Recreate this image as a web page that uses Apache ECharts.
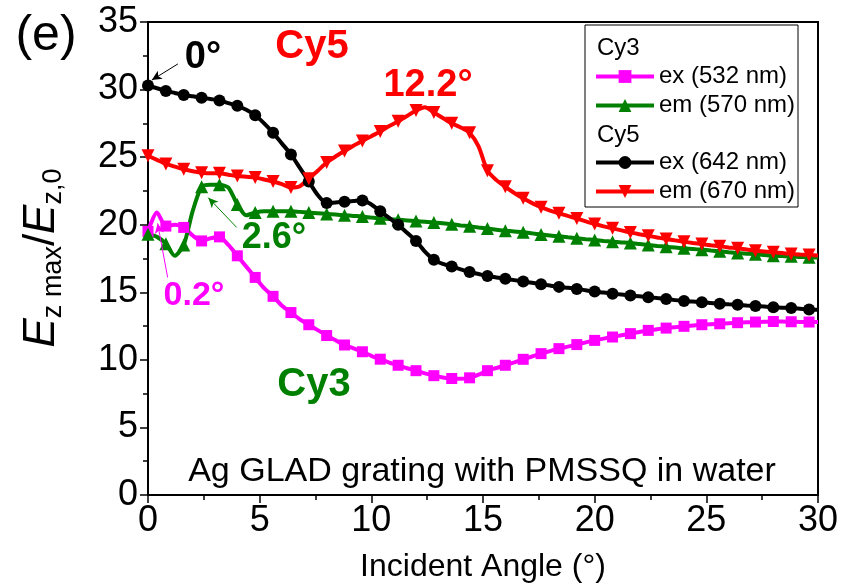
<!DOCTYPE html>
<html>
<head>
<meta charset="utf-8">
<script src="https://cdn.jsdelivr.net/npm/echarts@6/dist/echarts.min.js"></script>
<style>
html, body { margin: 0; padding: 0; background: #fff; }
#chart { width: 846px; height: 588px; }
</style>
</head>
<body>
<div id="chart"></div>
<script>
// incident angle, 0.4 deg step (markers drawn every 0.8 deg)
var angles = [0,0.4,0.8,1.2,1.6,2,2.4,2.8,3.2,3.6,4,4.4,4.8,5.2,5.6,6,6.4,6.8,7.2,7.6,
    8,8.4,8.8,9.2,9.6,10,10.4,10.8,11.2,11.6,12,12.4,12.8,13.2,13.6,14,14.4,14.8,15.2,15.6,
    16,16.4,16.8,17.2,17.6,18,18.4,18.8,19.2,19.6,20,20.4,20.8,21.2,21.6,22,22.4,22.8,23.2,23.6,
    24,24.4,24.8,25.2,25.6,26,26.4,26.8,27.2,27.6,28,28.4,28.8,29.2,29.6,30];

// Cy3 ex (532 nm)
var cy3Ex = [19.5,20.9,19.9,20.0,19.8,19.2,18.8,19.0,19.1,18.5,
    17.7,16.9,16.1,15.3,14.7,14.0,13.5,13.0,12.6,12.2,
    11.8,11.45,11.1,10.85,10.6,10.3,10.05,9.8,9.6,9.38,
    9.2,9.0,8.83,8.7,8.62,8.6,8.67,8.9,9.2,9.4,
    9.6,9.82,10.04,10.25,10.46,10.65,10.83,10.98,11.13,11.29,
    11.44,11.57,11.69,11.82,11.94,12.06,12.18,12.27,12.35,12.42,
    12.48,12.54,12.6,12.64,12.67,12.71,12.75,12.78,12.8,12.82,
    12.84,12.83,12.82,12.81,12.8,12.8];
// Cy3 em (570 nm)
var cy3Em = [19.3,19.1,18.6,17.7,18.5,21.0,22.8,22.95,22.95,22.75,
    21.5,20.7,20.9,21.0,21.0,21.0,21.0,20.95,20.9,20.85,
    20.8,20.75,20.7,20.65,20.6,20.53,20.47,20.42,20.37,20.32,
    20.27,20.22,20.17,20.1,20.03,19.95,19.88,19.8,19.72,19.63,
    19.56,19.5,19.44,19.36,19.28,19.2,19.14,19.07,19.0,18.93,
    18.87,18.8,18.74,18.69,18.64,18.57,18.5,18.43,18.37,18.31,
    18.25,18.2,18.15,18.09,18.03,17.96,17.9,17.86,17.82,17.76,
    17.7,17.68,17.66,17.62,17.59,17.57];
// Cy5 ex (642 nm)
var cy5Ex = [30.3,30.1,29.9,29.75,29.6,29.5,29.4,29.3,29.2,29.0,
    28.8,28.5,28.1,27.5,26.8,26.0,25.2,24.2,23.2,22.2,
    21.6,21.65,21.7,21.75,21.8,21.5,21.0,20.5,20.0,19.4,
    18.8,18.0,17.4,17.1,16.9,16.7,16.5,16.35,16.2,16.1,
    16.0,15.9,15.8,15.7,15.6,15.5,15.4,15.33,15.25,15.15,
    15.05,14.98,14.9,14.83,14.76,14.7,14.64,14.57,14.5,14.42,
    14.35,14.31,14.27,14.21,14.15,14.11,14.07,14.02,13.98,13.94,
    13.9,13.86,13.83,13.78,13.73,13.7];
// Cy5 em (670 nm)
var cy5Em = [25.1,24.8,24.5,24.3,24.1,23.95,23.85,23.8,23.8,23.7,
    23.6,23.55,23.5,23.35,23.2,23.0,22.75,22.85,23.4,24.0,
    24.6,25.05,25.45,25.85,26.2,26.55,26.9,27.3,27.65,28.05,
    28.45,28.7,28.3,27.9,27.5,27.2,26.8,25.8,24.0,23.3,
    22.8,22.35,21.95,21.6,21.3,21.05,20.85,20.65,20.46,20.25,
    20.05,19.88,19.73,19.58,19.43,19.3,19.18,19.06,18.94,18.84,
    18.74,18.65,18.57,18.48,18.4,18.32,18.25,18.16,18.08,18.02,
    17.96,17.9,17.83,17.79,17.76,17.72];

var seriesNames = ['ex (532 nm)', 'em (570 nm)', 'ex (642 nm)', 'em (670 nm)'];

var FONT = '"Liberation Sans", Arial, sans-serif';

function build(vals) {
    var out = [];
    for (var i = 0; i < angles.length; i++) {
        var item = { value: [angles[i], vals[i]] };
        if (i % 2 !== 0) item.symbol = 'none';
        out.push(item);
    }
    return out;
}

function arrow(color, from, to) {
    return {
        silent: true,
        symbol: ['none', 'arrow'],
        symbolSize: [7, 10],
        label: { show: false },
        lineStyle: { color: color, width: 1, type: 'solid' },
        data: [[{ coord: from }, { coord: to }]]
    };
}

function lineSeries(name, vals, color, sym, size, rot, mark) {
    return {
        name: name,
        type: 'line',
        data: build(vals),
        smooth: 0.25,
        symbol: sym,
        symbolSize: size,
        symbolRotate: rot || 0,
        lineStyle: { color: color, width: 4 },
        itemStyle: { color: color },
        emphasis: { disabled: true },
        markLine: mark,
        z: 3
    };
}

function legendBlock(names, top) {
    return {
        data: names,
        orient: 'vertical', left: 594, top: top, padding: 0,
        itemWidth: 58, itemHeight: 16, itemGap: 0,
        lineStyle: { width: 4 },
        itemStyle: { borderWidth: 0 },
        textStyle: { fontFamily: FONT, fontSize: 24, color: '#000', lineHeight: 29 },
        selectedMode: false, z: 10
    };
}

var chart = echarts.init(document.getElementById('chart'));

var option = {
    animation: false,
    grid: {
        left: 148, right: 28, top: 22, bottom: 91,
        show: true, borderColor: '#000', borderWidth: 2
    },
    xAxis: {
        type: 'value', min: 0, max: 30, interval: 5,
        name: 'Incident Angle (°)',
        nameLocation: 'middle', nameGap: 56,
        nameTextStyle: { fontFamily: FONT, fontSize: 32, color: '#000' },
        axisLine: { show: true, onZero: false, lineStyle: { color: '#000', width: 2 } },
        axisTick: { show: true, inside: false, length: 8, lineStyle: { color: '#000', width: 1.5 } },
        minorTick: { show: true, splitNumber: 2, length: 5, lineStyle: { color: '#000', width: 1.5 } },
        axisLabel: { fontFamily: FONT, fontSize: 36, color: '#000', margin: 8 },
        splitLine: { show: false }
    },
    yAxis: {
        type: 'value', min: 0, max: 35, interval: 5,
        axisLine: { show: true, onZero: false, lineStyle: { color: '#000', width: 2 } },
        axisTick: { show: true, inside: false, length: 8, lineStyle: { color: '#000', width: 1.5 } },
        minorTick: { show: true, splitNumber: 2, length: 5, lineStyle: { color: '#000', width: 1.5 } },
        axisLabel: { fontFamily: FONT, fontSize: 36, color: '#000', margin: 10 },
        splitLine: { show: false }
    },
    legend: [
        legendBlock([seriesNames[0], seriesNames[1]], 62),
        legendBlock([seriesNames[2], seriesNames[3]], 148)
    ],
    graphic: [
        { type: 'rect', z: 5, shape: { x: 585, y: 25, width: 213, height: 182 },
          style: { fill: '#fff', stroke: '#000', lineWidth: 1 } },
        { type: 'text', z: 6, x: 597, y: 48,
          style: { text: 'Cy3', fontFamily: FONT, fontSize: 24, fill: '#000', align: 'left', verticalAlign: 'middle' } },
        { type: 'text', z: 6, x: 597, y: 135,
          style: { text: 'Cy5', fontFamily: FONT, fontSize: 24, fill: '#000', align: 'left', verticalAlign: 'middle' } },
        { type: 'text', x: 46, y: 36,
          style: { text: '(e)', fontFamily: FONT, fontSize: 50, fill: '#000', align: 'center', verticalAlign: 'middle' } },
        { type: 'text', x: 203, y: 58,
          style: { text: '0°', fontFamily: FONT, fontSize: 38, fontWeight: 'bold', fill: '#000', align: 'center', verticalAlign: 'middle' } },
        { type: 'text', x: 312, y: 47,
          style: { text: 'Cy5', fontFamily: FONT, fontSize: 40, fontWeight: 'bold', fill: '#ff0000', align: 'center', verticalAlign: 'middle' } },
        { type: 'text', x: 428, y: 86,
          style: { text: '12.2°', fontFamily: FONT, fontSize: 38, fontWeight: 'bold', fill: '#ff0000', align: 'center', verticalAlign: 'middle' } },
        { type: 'text', x: 274, y: 238,
          style: { text: '2.6°', fontFamily: FONT, fontSize: 36, fontWeight: 'bold', fill: '#008000', align: 'center', verticalAlign: 'middle' } },
        { type: 'text', x: 194, y: 296,
          style: { text: '0.2°', fontFamily: FONT, fontSize: 34, fontWeight: 'bold', fill: '#ff00ff', align: 'center', verticalAlign: 'middle' } },
        { type: 'text', x: 314, y: 385,
          style: { text: 'Cy3', fontFamily: FONT, fontSize: 40, fontWeight: 'bold', fill: '#008000', align: 'center', verticalAlign: 'middle' } },
        { type: 'text', x: 482, y: 472,
          style: { text: 'Ag GLAD grating with PMSSQ in water', fontFamily: FONT, fontSize: 34, fill: '#000', align: 'center', verticalAlign: 'middle' } },
        { type: 'text', x: 42, y: 258, rotation: Math.PI / 2,
          style: {
              text: '{i|E}{s|z max}{n|/}{i|E}{s|z,0}',
              align: 'center', verticalAlign: 'middle', fill: '#000',
              rich: {
                  i: { fontFamily: FONT, fontSize: 44, fontStyle: 'italic', lineHeight: 50 },
                  n: { fontFamily: FONT, fontSize: 44, lineHeight: 50 },
                  s: { fontFamily: FONT, fontSize: 27, lineHeight: 30, verticalAlign: 'bottom' }
              }
          } }
    ],
    series: [
        lineSeries(seriesNames[0], cy3Ex, '#ff00ff', 'rect', 11, 0,
            arrow('#ff00ff', [0.88, 16.1], [0.43, 20.1])),
        lineSeries(seriesNames[1], cy3Em, '#008000', 'triangle', 13, 0,
            arrow('#008000', [3.97, 19.8], [2.7, 22.0])),
        lineSeries(seriesNames[2], cy5Ex, '#000000', 'circle', 12, 0,
            arrow('#000000', [1.34, 31.9], [0.17, 30.7])),
        lineSeries(seriesNames[3], cy5Em, '#ff0000', 'triangle', 13, 180, null)
    ]
};

chart.setOption(option);
</script>
</body>
</html>
